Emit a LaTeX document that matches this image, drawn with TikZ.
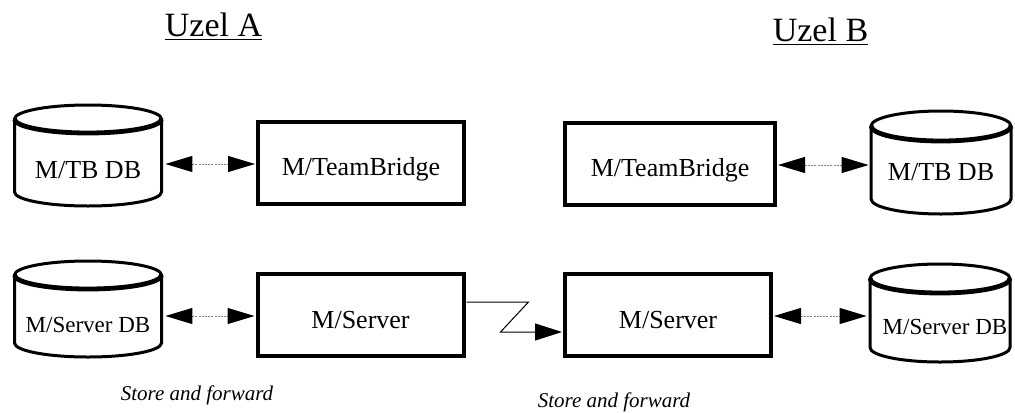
\documentclass[tikz,border=0pt]{standalone}
\usepackage{fontspec}
\setmainfont{Liberation Serif}
\usetikzlibrary{arrows.meta,calc}
\tikzset{
  blockbox/.style={draw, line width=2pt, minimum height=41pt, inner sep=0pt, text height=15pt, text depth=2pt, font=\fontsize{13}{15}\selectfont},
  cyltext/.style={inner sep=0pt, minimum height=10pt},
  cylline/.style={line width=1.5pt},
  cylfront/.style={line width=2.4pt},
  link/.style={draw=gray, line width=0.5pt, dash pattern=on 1pt off 0.6pt,
    {Triangle[length=13.5pt,width=8pt,black]}-{Triangle[length=13.5pt,width=8pt,black]}},
  wan/.style={draw=black, line width=0.5pt, -{Triangle[length=13.5pt,width=8.5pt,black]}},
  title/.style={font=\fontsize{17}{20}\selectfont, anchor=base, inner sep=0pt},
  note/.style={font=\fontsize{10.5}{12}\selectfont\itshape, inner sep=0pt}
}
\begin{document}
\begin{tikzpicture}[x=0.5pt,y=-0.5pt]
\useasboundingbox (0,0) rectangle (1015,412);

% titles
\node[title] (uA) at (213.5,36) {\underline{Uzel A}};
\node[title] (uB) at (820.5,41) {\underline{Uzel B}};

% ---- cylinders ----
% top-left
\draw[cylline] (14.5,119) -- (14.5,192) arc[start angle=180,end angle=360,x radius=36.75pt,y radius=7pt] -- (161.5,119);
\draw[cylline] (88,119) ellipse [x radius=36.75pt, y radius=7pt];
\draw[cylfront] (14.5,119) arc[start angle=180,end angle=360,x radius=36.75pt,y radius=7pt];
\node[cyltext, minimum width=75pt, font=\fontsize{13}{15}\selectfont] (dbA) at (88,170) {M/TB DB};

% top-right
\draw[cylline] (871,126) -- (871,199) arc[start angle=180,end angle=360,x radius=35pt,y radius=7.5pt] -- (1011,126);
\draw[cylline] (941,126) ellipse [x radius=35pt, y radius=7.5pt];
\draw[cylfront] (871,126) arc[start angle=180,end angle=360,x radius=35pt,y radius=7.5pt];
\node[cyltext, minimum width=71pt, font=\fontsize{13}{15}\selectfont] (dbB) at (941,172) {M/TB DB};

% bottom-left
\draw[cylline] (14.5,275) -- (14.5,343) arc[start angle=180,end angle=360,x radius=36.75pt,y radius=7pt] -- (161.5,275);
\draw[cylline] (88,275) ellipse [x radius=36.75pt, y radius=7pt];
\draw[cylfront] (14.5,275) arc[start angle=180,end angle=360,x radius=36.75pt,y radius=7pt];
\node[cyltext, minimum width=75pt, font=\fontsize{11.5}{13}\selectfont] (sdbA) at (88,325) {M/Server DB};

% bottom-right
\draw[cylline] (870,278.5) -- (870,347.5) arc[start angle=180,end angle=360,x radius=35pt,y radius=7.25pt] -- (1010,278.5);
\draw[cylline] (940,278.5) ellipse [x radius=35pt, y radius=7.25pt];
\draw[cylfront] (870,278.5) arc[start angle=180,end angle=360,x radius=35pt,y radius=7.25pt];
\node[cyltext, minimum width=72pt, font=\fontsize{11.5}{13}\selectfont] (sdbB) at (940,327) {\hspace{5pt}M/Server DB};

% ---- boxes ----
\node[blockbox, minimum width=103pt] (tbA) at (361,162.5) {M/TeamBridge};
\node[blockbox, minimum width=105pt] (tbB) at (670,163.5) {M/TeamBridge};
\node[blockbox, minimum width=103pt] (srvA) at (360.5,315) {M/Server};
\node[blockbox, minimum width=103pt] (srvB) at (668,315) {M/Server};

% ---- connectors ----
\draw[link] ($(tbA.west -| dbA.east)+(2,1.5)$) -- ($(tbA.west)+(-1,1.5)$);
\draw[link] ($(tbB.east)+(1,1.5)$) -- ($(tbB.east -| dbB.west)+(-1,1.5)$);
\draw[link] ($(srvA.west -| sdbA.east)+(2,1)$) -- ($(srvA.west)+(-1,1)$);
\draw[link] ($(srvB.east)+(1,1)$) -- ($(srvB.east -| sdbB.west)+(-1,1)$);
\draw[wan] ($(srvA.east)+(1,-13)$) -- ++(62,0) -- ++(-28,30) -- ($(srvB.west)+(-1,17)$);

% notes
\node[note] (sfA) at (197,395) {Store and forward};
\node[note] (sfB) at (614,402) {Store and forward};
\end{tikzpicture}
\end{document}
